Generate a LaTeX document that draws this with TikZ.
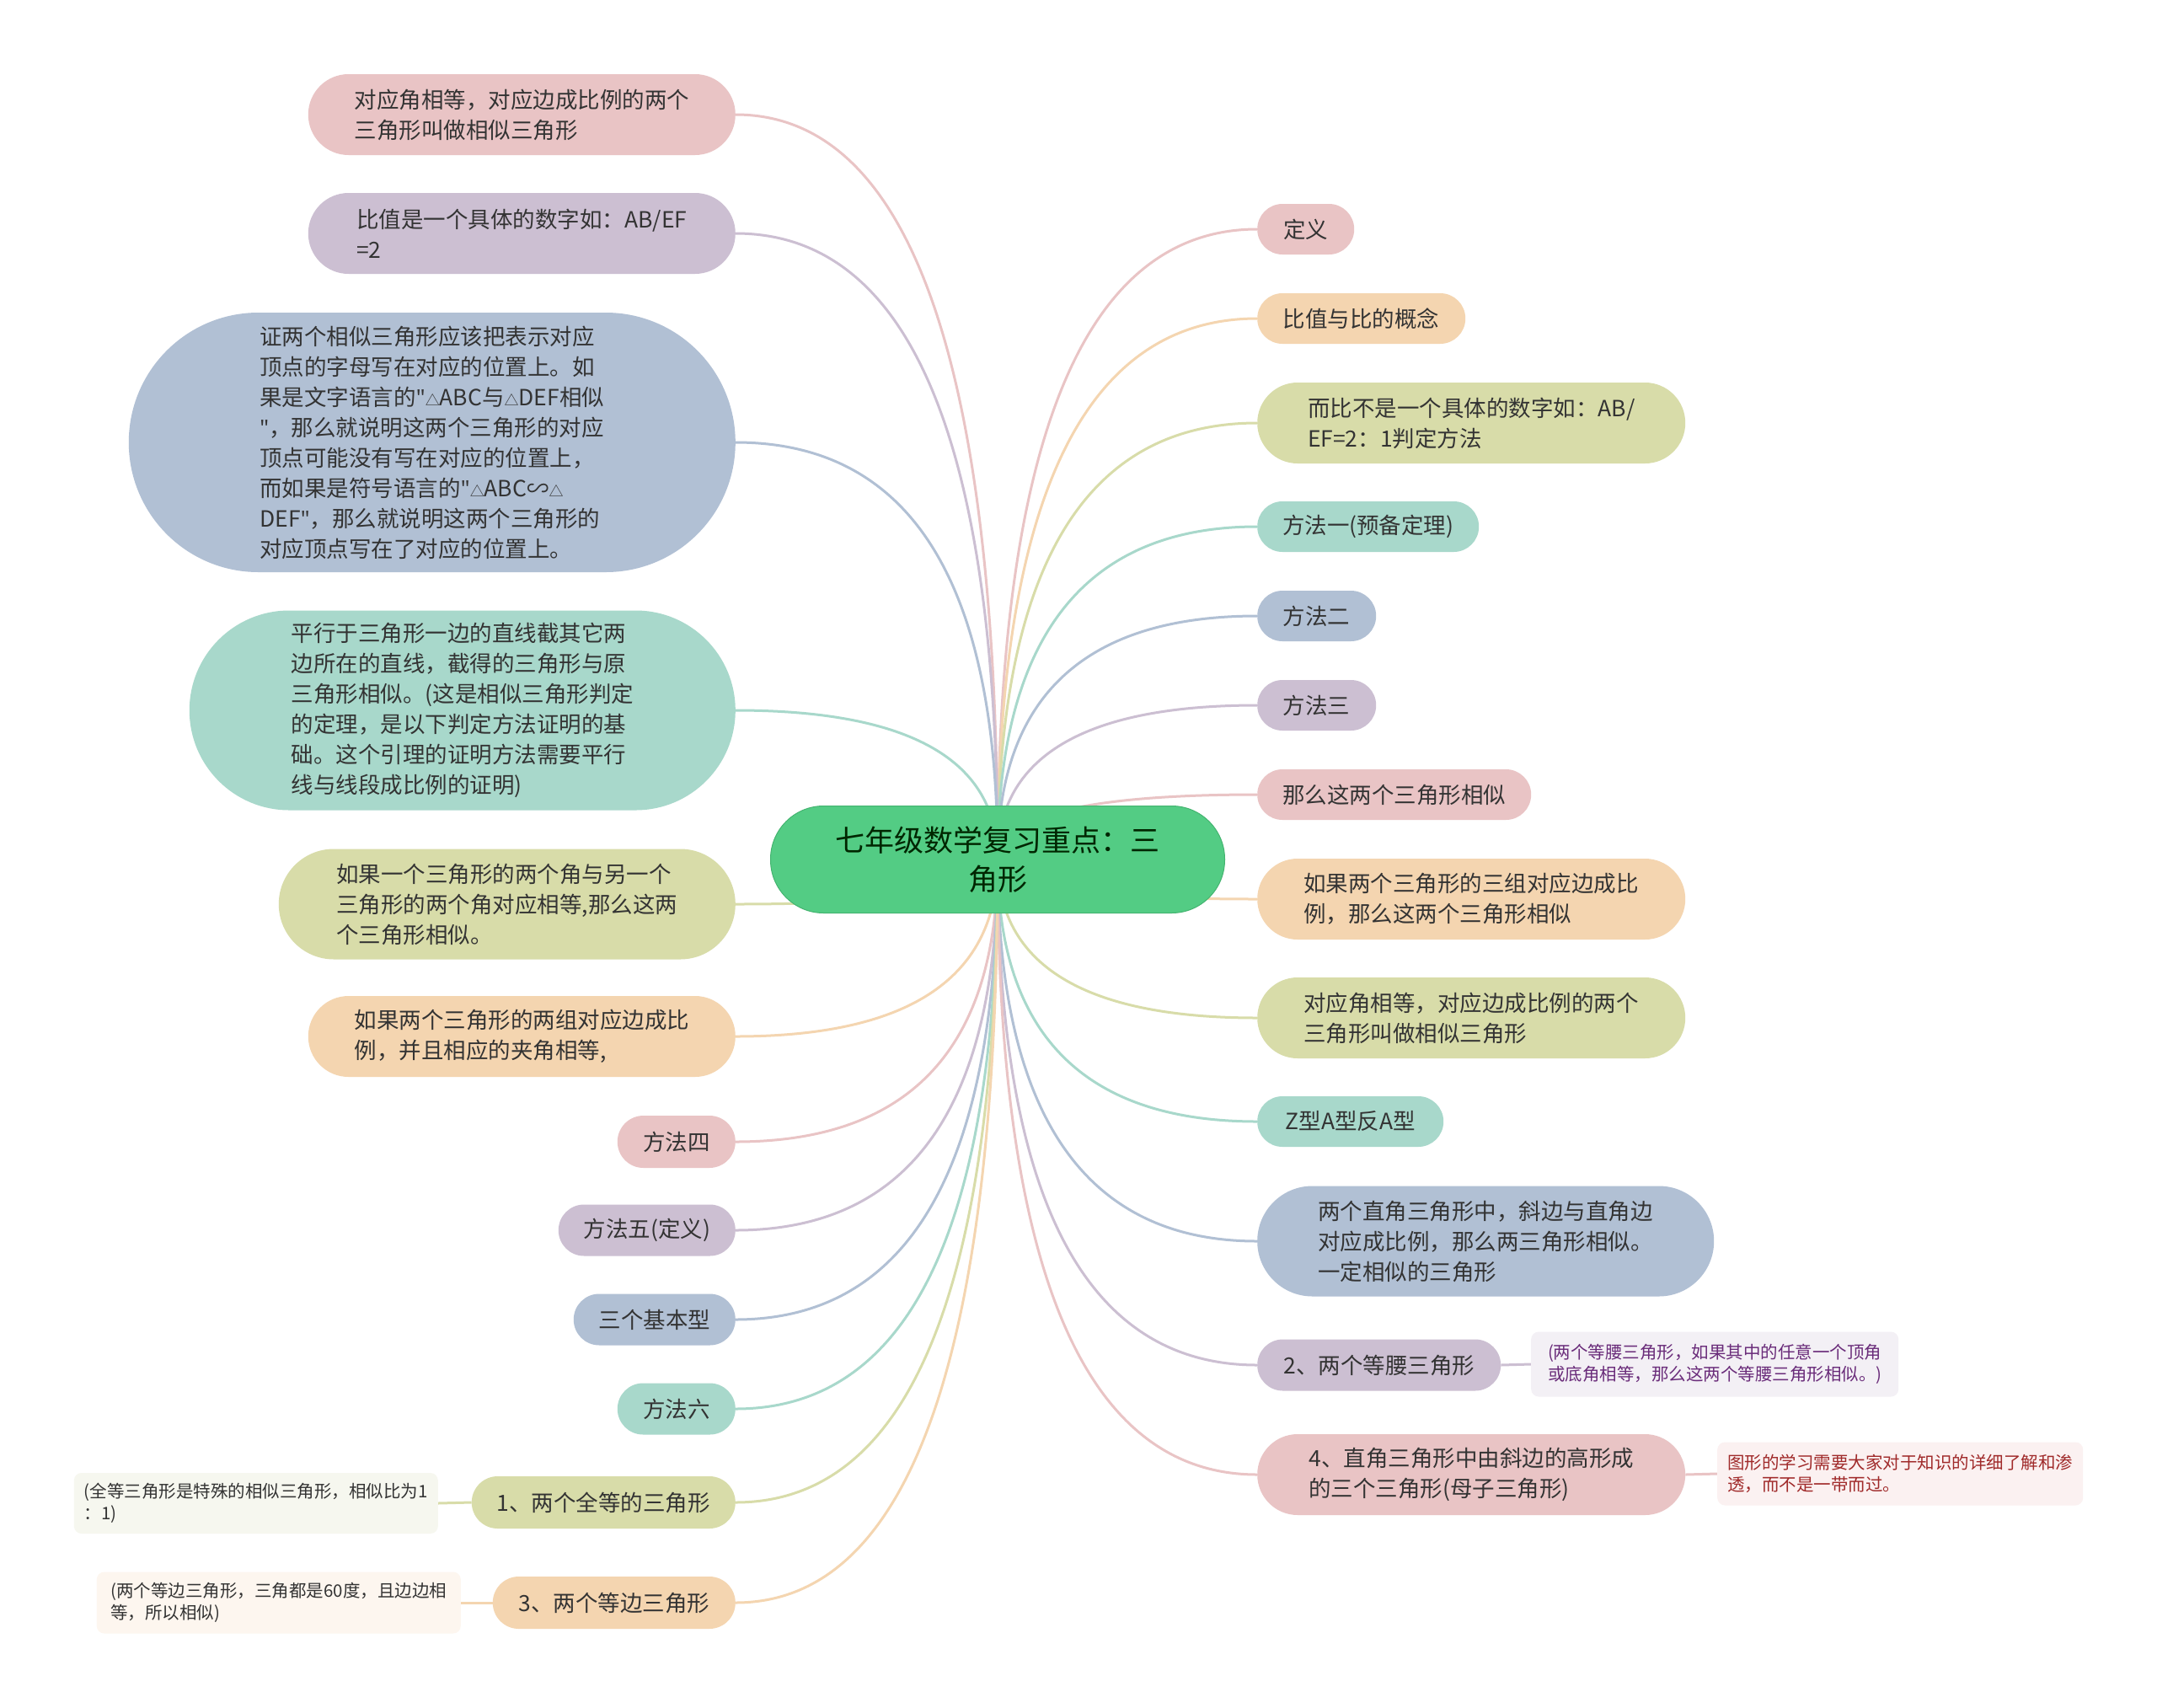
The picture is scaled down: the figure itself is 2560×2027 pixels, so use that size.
\documentclass[tikz,border=0pt]{standalone}
\usepackage{fontspec}
\setmainfont{Noto Sans CJK SC}
\newfontfamily\qfont{Noto Sans}
\usetikzlibrary{calc,backgrounds}
\definecolor{cpink}{HTML}{E9C4C5}
\definecolor{cpurple}{HTML}{CCBFD2}
\definecolor{cblue}{HTML}{B1C0D4}
\definecolor{cteal}{HTML}{A8D8CB}
\definecolor{colive}{HTML}{D8DCA9}
\definecolor{cpeach}{HTML}{F4D5B0}
\definecolor{rootg}{HTML}{53CC84}
\definecolor{rootb}{HTML}{44B470}
\definecolor{txt}{HTML}{333333}
\definecolor{npurf}{HTML}{F3F0F5}
\definecolor{npurt}{HTML}{6A2C7A}
\definecolor{nredf}{HTML}{FBF1F1}
\definecolor{nredt}{HTML}{A02A2A}
\definecolor{nolif}{HTML}{F6F7EF}
\definecolor{npeaf}{HTML}{FDF6EF}
\newcommand\mmR[2]{\draw[edge,#1] (root.center) .. controls ($(root.center)!2/3!(root.center|-#2.west)$) and ($(#2.west)!2/3!(root.center|-#2.west)$) .. (#2.west);}
\newcommand\mmL[2]{\draw[edge,#1] (root.center) .. controls ($(root.center)!2/3!(root.center|-#2.east)$) and ($(#2.east)!2/3!(root.center|-#2.east)$) .. (#2.east);}
\newcommand\tri{{\fontsize{17}{17}\selectfont △}}
\newcommand\dq{{\qfont "}}
\begin{document}
\begin{tikzpicture}[x=1pt,y=-1pt,
  edge/.style={line width=3pt},
  box/.style={rectangle, align=left, text=txt, inner sep=0pt, font=\fontsize{26.5}{36}\selectfont},
  rbox/.style={box, anchor=west},
  lbox/.style={box, anchor=east},
  note/.style={rectangle, align=left, inner sep=0pt, rounded corners=9pt, font=\fontsize{20.5}{26}\selectfont}
]
\useasboundingbox (0,0) rectangle (2560,2027);

% root
\node[box, align=center, fill=rootg, draw=rootb, line width=1pt, text=black!85!green, minimum width=539pt, minimum height=127pt, rounded corners=63pt, font=\fontsize{35}{46}\selectfont] (root) at (1184,1020) {七年级数学复习重点：三\\角形};

% right side
\node[rbox, fill=cpink,   minimum width=115pt, minimum height=60pt, rounded corners=29.9pt] (R1) at (1492,272) {定义};
\node[rbox, fill=cpeach,  minimum width=247pt, minimum height=60pt, rounded corners=29.9pt] (R2) at (1492,378) {比值与比的概念};
\node[rbox, fill=colive,  minimum width=508pt, minimum height=96pt, rounded corners=47.9pt] (R3) at (1492,502) {而比不是一个具体的数字如：AB/\\EF=2：1判定方法};
\node[rbox, fill=cteal,   minimum width=263pt, minimum height=60pt, rounded corners=29.9pt] (R4) at (1492,625) {方法一(预备定理)};
\node[rbox, fill=cblue,   minimum width=141pt, minimum height=60pt, rounded corners=29.9pt] (R5) at (1492,731) {方法二};
\node[rbox, fill=cpurple, minimum width=141pt, minimum height=60pt, rounded corners=29.9pt] (R6) at (1492,837) {方法三};
\node[rbox, fill=cpink,   minimum width=325pt, minimum height=60pt, rounded corners=29.9pt] (R7) at (1492,943) {那么这两个三角形相似};
\node[rbox, fill=cpeach,  minimum width=508pt, minimum height=96pt, rounded corners=47.9pt] (R8) at (1492,1067) {如果两个三角形的三组对应边成比\\例，那么这两个三角形相似};
\node[rbox, fill=colive,  minimum width=508pt, minimum height=96pt, rounded corners=47.9pt] (R9) at (1492,1208) {对应角相等，对应边成比例的两个\\三角形叫做相似三角形};
\node[rbox, fill=cteal,   minimum width=221pt, minimum height=60pt, rounded corners=29.9pt] (R10) at (1492,1331) {Z型A型反A型};
\node[rbox, fill=cblue,   minimum width=542pt, minimum height=131pt, rounded corners=65.4pt] (R11) at (1492,1473) {两个直角三角形中，斜边与直角边\\对应成比例，那么两三角形相似。\\一定相似的三角形};
\node[rbox, fill=cpurple, minimum width=289pt, minimum height=61pt, rounded corners=30.4pt] (R12) at (1492,1620) {2、两个等腰三角形};
\node[rbox, fill=cpink,   minimum width=508pt, minimum height=96pt, rounded corners=47.9pt] (R13) at (1492,1750) {4、直角三角形中由斜边的高形成\\的三个三角形(母子三角形)};

% left side
\node[lbox, fill=cpink,   minimum width=507pt, minimum height=96pt, rounded corners=47.9pt] (L1) at (873,136) {对应角相等，对应边成比例的两个\\三角形叫做相似三角形};
\node[lbox, fill=cpurple, minimum width=507pt, minimum height=96pt, rounded corners=47.9pt] (L2) at (873,277) {比值是一个具体的数字如：AB/EF\\=2};
\node[lbox, fill=cblue,   minimum width=720pt, minimum height=308pt, rounded corners=153.9pt] (L3) at (873,525) {证两个相似三角形应该把表示对应\\顶点的字母写在对应的位置上。如\\果是文字语言的\dq\tri ABC与\tri DEF相似\\\dq，那么就说明这两个三角形的对应\\顶点可能没有写在对应的位置上，\\而如果是符号语言的\dq\tri ABC∽\tri\\DEF\dq，那么就说明这两个三角形的\\对应顶点写在了对应的位置上。};
\node[lbox, fill=cteal,   minimum width=648pt, minimum height=237pt, rounded corners=118.4pt] (L4) at (873,843) {平行于三角形一边的直线截其它两\\边所在的直线，截得的三角形与原\\三角形相似。(这是相似三角形判定\\的定理，是以下判定方法证明的基\\础。这个引理的证明方法需要平行\\线与线段成比例的证明)};
\node[lbox, fill=colive,  minimum width=542pt, minimum height=131pt, rounded corners=65.4pt] (L5) at (873,1073) {如果一个三角形的两个角与另一个\\三角形的两个角对应相等,那么这两\\个三角形相似。};
\node[lbox, fill=cpeach,  minimum width=507pt, minimum height=96pt, rounded corners=47.9pt] (L6) at (873,1230) {如果两个三角形的两组对应边成比\\例，并且相应的夹角相等,};
\node[lbox, fill=cpink,   minimum width=140pt, minimum height=62pt, rounded corners=30.9pt] (L7) at (873,1355) {方法四};
\node[lbox, fill=cpurple, minimum width=210pt, minimum height=61pt, rounded corners=30.4pt] (L8) at (873,1460) {方法五(定义)};
\node[lbox, fill=cblue,   minimum width=192pt, minimum height=61pt, rounded corners=30.4pt] (L9) at (873,1566) {三个基本型};
\node[lbox, fill=cteal,   minimum width=140pt, minimum height=61pt, rounded corners=30.4pt] (L10) at (873,1672) {方法六};
\node[lbox, fill=colive,  minimum width=313pt, minimum height=62pt, rounded corners=30.9pt] (L11) at (873,1783) {1、两个全等的三角形};
\node[lbox, fill=cpeach,  minimum width=288pt, minimum height=62pt, rounded corners=30.9pt] (L12) at (873,1902) {3、两个等边三角形};

% notes
\node[note, anchor=west, fill=npurf, text=npurt, minimum width=436pt, minimum height=77pt] (N12) at (1817,1619) {(两个等腰三角形，如果其中的任意一个顶角\\或底角相等，那么这两个等腰三角形相似。)};
\node[note, anchor=west, fill=nredf, text=nredt, minimum width=434pt, minimum height=75pt] (N13) at (2038,1749) {图形的学习需要大家对于知识的详细了解和渗\\透，而不是一带而过。};
\node[note, anchor=east, fill=nolif, text=txt, minimum width=432pt, minimum height=72pt] (NL11) at (520,1784) {(全等三角形是特殊的相似三角形，相似比为1\\：1)};
\node[note, anchor=east, fill=npeaf, text=txt, minimum width=432pt, minimum height=73pt] (NL12) at (547,1902) {(两个等边三角形，三角都是60度，且边边相\\等，所以相似)};

\begin{pgfonlayer}{background}
\fill[white] (0,0) rectangle (2560,2027);
\mmR{cpink}{R1}
\mmR{cpeach}{R2}
\mmR{colive}{R3}
\mmR{cteal}{R4}
\mmR{cblue}{R5}
\mmR{cpurple}{R6}
\mmR{cpink}{R7}
\mmR{cpeach}{R8}
\mmR{colive}{R9}
\mmR{cteal}{R10}
\mmR{cblue}{R11}
\mmR{cpurple}{R12}
\mmR{cpink}{R13}
\mmL{cpink}{L1}
\mmL{cpurple}{L2}
\mmL{cblue}{L3}
\mmL{cteal}{L4}
\mmL{colive}{L5}
\mmL{cpeach}{L6}
\mmL{cpink}{L7}
\mmL{cpurple}{L8}
\mmL{cblue}{L9}
\mmL{cteal}{L10}
\mmL{colive}{L11}
\mmL{cpeach}{L12}
\draw[edge, cpurple] (R12.east) -- (N12.west);
\draw[edge, cpink] (R13.east) -- (N13.west);
\draw[edge, colive] (L11.west) -- (NL11.east);
\draw[edge, cpeach] (L12.west) -- (NL12.east);
\end{pgfonlayer}
\end{tikzpicture}
\end{document}
